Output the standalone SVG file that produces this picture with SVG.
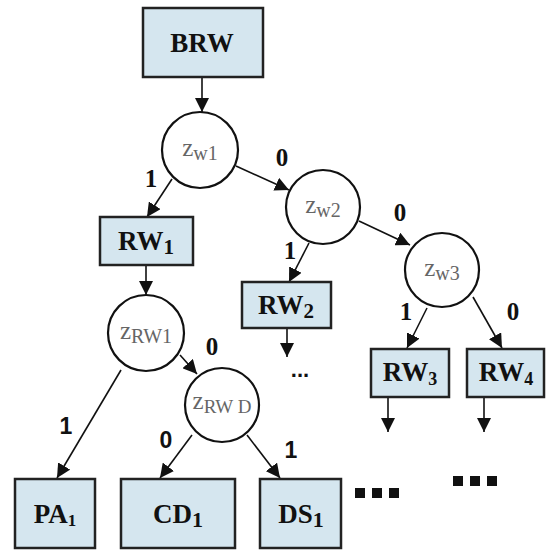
<svg xmlns="http://www.w3.org/2000/svg" width="546" height="552" viewBox="0 0 546 552">
<style>
.box{fill:#d5e6ef;stroke:#222;stroke-width:2.5}
.cir{fill:#fff;stroke:#111;stroke-width:2.2}
.bt{font-family:"Liberation Serif",serif;font-weight:bold;font-size:27px;fill:#111;text-anchor:middle}
.ct{font-family:"Liberation Serif",serif;font-size:25px;fill:#666;text-anchor:middle}
.el{font-family:"Liberation Serif",serif;font-weight:bold;font-size:25px;fill:#111;text-anchor:middle}
.es{font-family:"Liberation Sans",sans-serif;font-weight:bold;font-size:23px;fill:#111;text-anchor:middle}
.c{stroke:#111;stroke-width:1.6;fill:none;marker-end:url(#ah)}
.d{font-family:"Liberation Sans",sans-serif;font-weight:bold;font-size:22px;fill:#111;text-anchor:middle}
</style>
<defs>
<marker id="ah" viewBox="0 0 10 10" refX="10" refY="5" markerWidth="14" markerHeight="14" markerUnits="userSpaceOnUse" orient="auto">
<path d="M0,0 L10,5 L0,10 z" fill="#111"/>
</marker>
</defs>
<rect width="546" height="552" fill="#fff"/>
<g id="connectors">
<path class="c" d="M202,77 L202,112"/>
<path class="c" d="M172,179 L147,217"/>
<path class="c" d="M236,166 L289,190"/>
<path class="c" d="M309,243 L289,282"/>
<path class="c" d="M359,221 L410,245"/>
<path class="c" d="M427,308 L407,348"/>
<path class="c" d="M473,297 L502,348"/>
<path class="c" d="M146,265 L146,295"/>
<path class="c" d="M180,355 L197,374"/>
<path class="c" d="M121,370 L57,478"/>
<path class="c" d="M192,435 L160,478"/>
<path class="c" d="M247,435 L280,478"/>
<path class="c" d="M287,328 L287,357"/>
<path class="c" d="M388,397 L388,432"/>
<path class="c" d="M484,397 L484,432"/>
<text class="el" x="151" y="187">1</text>
<text class="el" x="282" y="166">0</text>
<text class="el" x="290" y="259">1</text>
<text class="el" x="400" y="221">0</text>
<text class="el" x="406" y="320">1</text>
<text class="el" x="513" y="320">0</text>
<text class="el" x="212" y="355">0</text>
<text class="es" x="66" y="434">1</text>
<text class="es" x="166" y="448">0</text>
<text class="es" x="291" y="458">1</text>
</g>
<g id="BRW"><rect class="box" x="143" y="8" width="120" height="69"/><text class="bt" x="202" y="52" font-size="30">BRW</text></g>
<g id="zw1"><circle class="cir" cx="200" cy="150" r="38"/><text class="ct" x="200" y="156">z<tspan font-size="20" dy="4">w1</tspan></text></g>
<g id="zw2"><circle class="cir" cx="323" cy="207" r="37"/><text class="ct" x="323" y="213">z<tspan font-size="20" dy="4">w2</tspan></text></g>
<g id="zw3"><circle class="cir" cx="442" cy="270" r="37"/><text class="ct" x="442" y="276">z<tspan font-size="20" dy="4">w3</tspan></text></g>
<g id="RW1"><rect class="box" x="100" y="217" width="93" height="48"/><text class="bt" x="146" y="250">RW<tspan font-size="21" dy="4">1</tspan></text></g>
<g id="RW2"><rect class="box" x="242" y="282" width="89" height="46"/><text class="bt" x="286" y="314">RW<tspan font-size="21" dy="4">2</tspan></text></g>
<g id="RW3"><rect class="box" x="371" y="349" width="78" height="48"/><text class="bt" x="410" y="381" font-size="23">RW<tspan font-size="18" dy="4">3</tspan></text></g>
<g id="RW4"><rect class="box" x="467" y="349" width="77" height="48"/><text class="bt" x="506" y="381" font-size="23">RW<tspan font-size="18" dy="4">4</tspan></text></g>
<g id="zRW1"><circle class="cir" cx="146" cy="333" r="38"/><text class="ct" x="146" y="339" font-size="23">z<tspan font-size="20" dy="4">RW1</tspan></text></g>
<g id="zRWD"><circle class="cir" cx="222" cy="405" r="37"/><text class="ct" x="222" y="409" font-size="22">z<tspan font-size="19" dy="4">RW D</tspan></text></g>
<g id="PA1"><rect class="box" x="15" y="479" width="80" height="69"/><text class="bt" x="55" y="523" font-size="23">PA<tspan font-size="17" dy="3">1</tspan></text></g>
<g id="CD1"><rect class="box" x="121" y="479" width="114" height="69"/><text class="bt" x="178" y="523" font-size="28">CD<tspan font-size="22" dy="4">1</tspan></text></g>
<g id="DS1"><rect class="box" x="260" y="479" width="81" height="69"/><text class="bt" x="301" y="523" font-size="28">DS<tspan font-size="22" dy="4">1</tspan></text></g>
<text class="d" x="300" y="377">...</text>
<g fill="#111"><rect x="355" y="488" width="10" height="10"/><rect x="372" y="488" width="10" height="10"/><rect x="389" y="488" width="10" height="10"/>
<rect x="453" y="476" width="10" height="10"/><rect x="470" y="476" width="10" height="10"/><rect x="487" y="476" width="10" height="10"/></g>
</svg>
